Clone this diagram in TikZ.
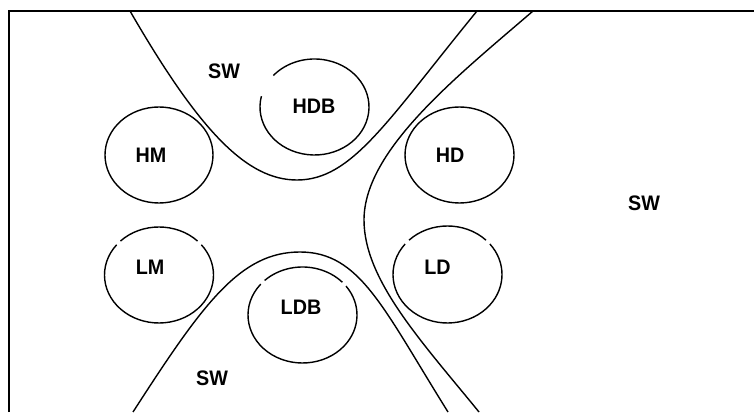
\documentclass[tikz,border=0pt]{standalone}
\usepackage{fontspec}
\setmainfont{Liberation Sans}[FakeStretch=0.94]
\begin{document}
\begin{tikzpicture}[x=1pt,y=1pt,
  frameline/.style={line width=2pt, line cap=butt},
  curveline/.style={line width=1.4pt},
  ring/.style={line width=1.4pt},
  lbl/.style={font=\fontsize{21}{25}\selectfont\bfseries, inner sep=0pt}]
\useasboundingbox (0,0) rectangle (754,412);
% frame (top and left only)
\draw[frameline] (9,0) -- (9,401) -- (754,401);
% curves
\coordinate (u1) at (130,401);
\coordinate (u2) at (297,232);
\coordinate (u3) at (477,401);
\draw[curveline] (u1) .. controls (200,280) and (247,232) .. (u2)
                      .. controls (352,232) and (387,291) .. (u3);
\coordinate (s1) at (533,401);
\coordinate (s2) at (364,192);
\coordinate (s3) at (479,0);
\draw[curveline] (s1) .. controls (457,335.5) and (364,262) .. (s2)
                      .. controls (364,132) and (422,70) .. (s3);
\coordinate (l1) at (133,0);
\coordinate (l2) at (300,160);
\coordinate (l3) at (448,0);
\draw[curveline] (l1) .. controls (203,108.5) and (240,160) .. (l2)
                      .. controls (360,160) and (383,104) .. (l3);
% ellipses
\coordinate (cHM) at (159,257);
\coordinate (cHDB) at (314.5,305);
\coordinate (cHD) at (459.5,257);
\coordinate (cLM) at (159,137);
\coordinate (cLDB) at (302.5,97);
\coordinate (cLD) at (447.5,137.5);
\draw[ring] (cHM) ellipse[x radius=54, y radius=48];
\draw[ring] (cHD) ellipse[x radius=54.5, y radius=48];
\draw[ring] ([shift={(167:54.5 and 48)}]cHDB) arc[start angle=167, end angle=499, x radius=54.5, y radius=48];
\draw[ring] ([shift={(45:54.5 and 48)}]cLM) arc[start angle=45, end angle=135, x radius=54.5, y radius=48];
\draw[ring] ([shift={(141:54.5 and 48)}]cLM) arc[start angle=141, end angle=399, x radius=54.5, y radius=48];
\draw[ring] ([shift={(43:54.5 and 48)}]cLDB) arc[start angle=43, end angle=134, x radius=54.5, y radius=48];
\draw[ring] ([shift={(140:54.5 and 48)}]cLDB) arc[start angle=140, end angle=397, x radius=54.5, y radius=48];
\draw[ring] ([shift={(45:54.5 and 48.5)}]cLD) arc[start angle=45, end angle=135, x radius=54.5, y radius=48.5];
\draw[ring] ([shift={(141:54.5 and 48.5)}]cLD) arc[start angle=141, end angle=399, x radius=54.5, y radius=48.5];
% labels
\node[lbl] (swtop) at (224,341) {SW};
\node[lbl] (hdb) at (314,306) {HDB};
\node[lbl] (hm) at (151,257) {HM};
\node[lbl] (hd) at (450,257) {HD};
\node[lbl] (swright) at (644,209) {SW};
\node[lbl] (lm) at (150,145) {LM};
\node[lbl] (ldb) at (301,105) {LDB};
\node[lbl] (ld) at (437.5,145) {LD};
\node[lbl] (swbot) at (212,34) {SW};
\end{tikzpicture}
\end{document}
